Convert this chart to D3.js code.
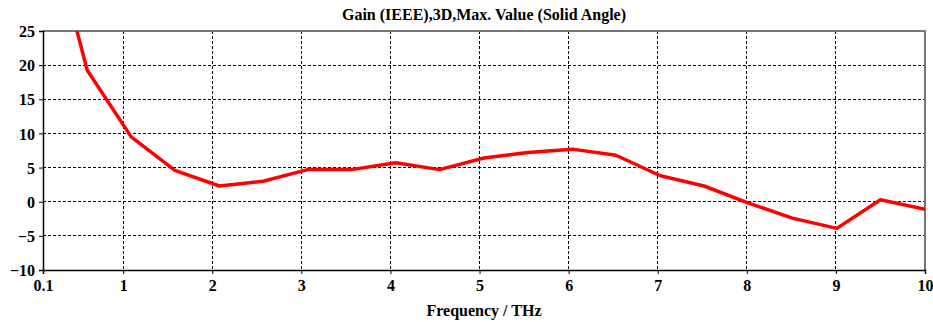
<!DOCTYPE html>
<html>
<head>
<meta charset="utf-8">
<script src="https://cdn.jsdelivr.net/npm/d3@7"></script>
<style>
  body { margin: 0; background: #fff; }
  text { font-family: "Liberation Serif", "DejaVu Serif", serif; font-weight: bold; }
</style>
</head>
<body>
<script>
// frequency samples (THz) and gain (dBi)
var freq = [0.1, 0.595, 1.09, 1.58, 2.08, 2.57, 3.07, 3.56, 4.06, 4.55, 5.05,
            5.54, 6.04, 6.53, 7.03, 7.52, 8.02, 8.51, 9.01, 9.5, 10];
var gain = [44, 19.3, 9.5, 4.6, 2.3, 3.0, 4.7, 4.7, 5.7, 4.7, 6.4,
            7.2, 7.7, 6.8, 3.8, 2.3, -0.2, -2.4, -3.9, 0.3, -1.1];
var xTicks = [0.1, 1, 2, 3, 4, 5, 6, 7, 8, 9, 10];
var yTicks = [-10, -5, 0, 5, 10, 15, 20, 25];

var width = 933, height = 322,
    mLeft = 43, mRight = 925, mTop = 31, mBottom = 270;

var svg = d3.select("body").append("svg")
    .attr("width", width)
    .attr("height", height);

var x = d3.scaleLinear().domain([0.1, 10]).range([mLeft, mRight]);
var y = d3.scaleLinear().domain([-10, 25]).range([mBottom, mTop]);

// grid
svg.append("g").selectAll("line")
    .data(xTicks.slice(1, -1))
  .enter().append("line")
    .attr("x1", x).attr("x2", x)
    .attr("y1", mTop).attr("y2", mBottom)
    .attr("stroke", "#000").attr("stroke-width", 1)
    .attr("stroke-dasharray", "3,2")
    .attr("shape-rendering", "crispEdges");

svg.append("g").selectAll("line")
    .data(yTicks.slice(1, -1))
  .enter().append("line")
    .attr("y1", y).attr("y2", y)
    .attr("x1", mLeft).attr("x2", mRight)
    .attr("stroke", "#000").attr("stroke-width", 1)
    .attr("stroke-dasharray", "3,2")
    .attr("shape-rendering", "crispEdges");

// frame: top / right gray
svg.append("path")
    .attr("d", "M" + mLeft + "," + mTop + "H" + mRight + "V" + mBottom)
    .attr("fill", "none")
    .attr("stroke", "#777")
    .attr("stroke-width", 1.5)
    .attr("shape-rendering", "crispEdges");

// axes
var xAxis = svg.append("g")
    .attr("transform", "translate(0," + mBottom + ")")
    .call(d3.axisBottom(x).tickValues(xTicks).tickSize(4).tickPadding(6)
      .tickFormat(function(d) { return d === 0.1 ? "0.1" : d; }));
var yAxis = svg.append("g")
    .attr("transform", "translate(" + mLeft + ",0)")
    .call(d3.axisLeft(y).tickValues(yTicks).tickSize(4).tickPadding(4));

[xAxis, yAxis].forEach(function(g) {
  g.select(".domain").attr("stroke", "#000").attr("stroke-width", 1.5);
  g.selectAll("line").attr("stroke", "#000");
  g.selectAll("text").style("font-size", "16px").attr("fill", "#000");
});
yAxis.selectAll("text").attr("dy", "0.35em");

// clip
svg.append("clipPath").attr("id", "clip")
  .append("rect")
    .attr("x", mLeft).attr("y", mTop)
    .attr("width", mRight - mLeft).attr("height", mBottom - mTop);

var line = d3.line()
    .x(function(d, i) { return x(freq[i]); })
    .y(function(d) { return y(d); });

svg.append("path")
    .datum(gain)
    .attr("clip-path", "url(#clip)")
    .attr("fill", "none")
    .attr("stroke", "#ff0000")
    .attr("stroke-width", 3.5)
    .attr("stroke-linejoin", "round")
    .attr("d", line);

// titles
svg.append("text")
    .attr("x", 484).attr("y", 20)
    .attr("text-anchor", "middle")
    .style("font-size", "16px")
    .text("Gain (IEEE),3D,Max. Value (Solid Angle)");

svg.append("text")
    .attr("x", 484).attr("y", 316)
    .attr("text-anchor", "middle")
    .style("font-size", "16px")
    .text("Frequency / THz");
</script>
</body>
</html>
